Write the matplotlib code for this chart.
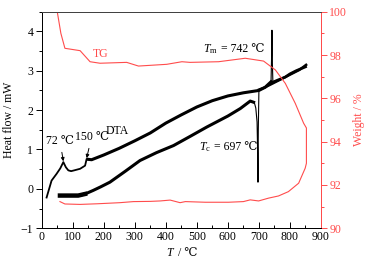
import matplotlib
matplotlib.use("Agg")
import matplotlib.pyplot as plt
from matplotlib.ticker import MultipleLocator
from matplotlib.offsetbox import TextArea, HPacker, AnnotationBbox

plt.rcParams['font.family'] = ['Liberation Serif', 'DejaVu Serif']
plt.rcParams['mathtext.fontset'] = 'custom'
plt.rcParams['mathtext.rm'] = 'Liberation Serif'
plt.rcParams['mathtext.it'] = 'Liberation Serif:italic'
FS = 8.5
plt.rcParams['font.size'] = FS

RED = '#ff4c4c'

# DTA heating curve (T, heat flow)
heat_T = [16, 32, 48, 60, 70, 78, 86, 95, 105, 124, 140, 145, 150, 161, 200, 250, 300, 350,
          400, 450, 500, 550, 600, 650, 700, 720, 739]
heat_H = [-0.22, 0.21, 0.38, 0.52, 0.68, 0.55, 0.47, 0.45, 0.47, 0.51, 0.59, 0.76, 0.75, 0.74,
          0.86, 1.03, 1.22, 1.42, 1.67, 1.88, 2.08, 2.24, 2.36, 2.44, 2.50, 2.58, 2.72]
# melting peak
peak_T = [739, 741, 742, 743, 745]
peak_H = [2.72, 3.4, 4.03, 3.3, 2.71]
heat2_T = [745, 760, 785, 800, 820, 835, 850]
heat2_H = [2.71, 2.76, 2.84, 2.92, 3.0, 3.05, 3.1]

# DTA cooling curve (from high T to low T)
cool_T = [852, 830, 800, 770, 745, 720, 700]
cool_H = [3.15, 3.02, 2.9, 2.78, 2.68, 2.58, 2.52]
exo_T = [700, 698, 697, 696, 694, 690, 686, 683]
exo_H = [2.52, 1.5, 0.17, 0.9, 1.7, 2.05, 2.17, 2.2]
cool2_T = [683, 672, 640, 600, 532, 480, 425, 370, 317, 270, 220, 190, 166, 140, 118, 90, 59]
cool2_H = [2.2, 2.23, 2.04, 1.85, 1.57, 1.34, 1.10, 0.92, 0.72, 0.45, 0.17, 0.05, -0.04, -0.13, -0.17, -0.17, -0.17]

# TG loop (T, weight %)
tg_T = [59, 75, 124, 180, 252, 296, 350, 382, 414, 446, 463, 527, 602, 650, 672, 699, 731, 763,
        795, 828, 849, 853, 853, 844, 817, 785, 753, 715, 656, 570, 478, 452, 403, 312, 274,
        188, 156, 124, 75, 62, 48]
tg_W = [91.23, 91.12, 91.10, 91.13, 91.18, 91.23, 91.24, 91.26, 91.30, 91.18, 91.23, 91.20, 91.20,
        91.23, 91.31, 91.26, 91.39, 91.49, 91.69, 92.08, 92.77, 93.0, 94.63, 94.85, 95.77, 96.69,
        97.31, 97.72, 97.85, 97.69, 97.66, 97.69, 97.57, 97.49, 97.66, 97.62, 97.69, 98.20, 98.31,
        99.0, 100.2]

fig = plt.figure(figsize=(3.75, 2.66), dpi=100)
ax = fig.add_axes([0.111, 0.142, 0.745, 0.814])
ax2 = ax.twinx()

ax.plot(heat_T[:13], heat_H[:13], color='black', lw=1.3, zorder=3)
ax.plot(heat_T[12:], heat_H[12:], color='black', lw=2.2, zorder=3)
ax.plot(peak_T, peak_H, color='black', lw=0.8, zorder=3)
ax.plot(heat2_T, heat2_H, color='black', lw=2.0, zorder=3)
ax.plot(cool_T, cool_H, color='black', lw=1.8, zorder=3)
ax.plot(exo_T, exo_H, color='black', lw=0.8, zorder=3)
ax.plot(cool2_T, cool2_H, color='black', lw=2.2, zorder=3)
ax.plot(cool2_T[-4:], cool2_H[-4:], color='black', lw=3.2, zorder=3)

ax2.plot(tg_T, tg_W, color=RED, lw=0.8)

ax.set_xlim(0, 900)
ax.set_ylim(-1, 4.5)
ax2.set_ylim(90, 100)

ax.xaxis.set_major_locator(MultipleLocator(100))
ax.xaxis.set_minor_locator(MultipleLocator(50))
ax.yaxis.set_major_locator(MultipleLocator(1))
ax.yaxis.set_minor_locator(MultipleLocator(0.5))
ax2.yaxis.set_major_locator(MultipleLocator(2))
ax2.yaxis.set_minor_locator(MultipleLocator(1))

ax.tick_params(axis='x', which='both', direction='in', labelsize=FS, width=0.7, pad=2)
ax.tick_params(axis='x', which='major', length=4)
ax.tick_params(axis='x', which='minor', length=2)
ax.tick_params(axis='y', which='both', direction='out', labelsize=FS, width=0.7, pad=2)
ax.tick_params(axis='y', which='major', length=4)
ax.tick_params(axis='y', which='minor', length=2)
ax2.tick_params(axis='y', which='both', direction='out', colors=RED, labelsize=FS, width=0.7, pad=2)
ax2.tick_params(axis='y', which='major', length=4)
ax2.tick_params(axis='y', which='minor', length=2)

for a in (ax, ax2):
    for s in a.spines.values():
        s.set_linewidth(0.7)
ax2.spines['right'].set_color(RED)
ax.spines['right'].set_color(RED)
ax2.spines['top'].set_color('#444444')

ax.set_ylabel('Heat flow / mW', fontsize=FS, labelpad=4)
ax2.set_ylabel('Weight / %', fontsize=FS, color=RED, labelpad=4)


def mixed(parts, xy, xycoords, align=(0.5, 0.5), color='black'):
    areas = [TextArea(s, textprops=dict(fontsize=FS, color=color)) for s in parts]
    pack = HPacker(children=areas, align='baseline', pad=0, sep=0)
    ab = AnnotationBbox(pack, xy, xycoords=xycoords, frameon=False,
                        box_alignment=align, pad=0, annotation_clip=False)
    ax.add_artist(ab)


mixed([r'$T$', ' / ℃'], (0.5, -0.115), 'axes fraction')
mixed([r'$T_{\rm m}$', ' = 742 ℃'], (620, 3.56), 'data')
mixed([r'$T_{\rm c}$', ' = 697 ℃'], (602, 1.06), 'data')

ax.annotate('72 ℃', xy=(70, 0.70), xytext=(59, 1.22), ha='center', va='center', fontsize=FS,
            arrowprops=dict(arrowstyle='-|>', color='black', lw=0.7, mutation_scale=5,
                            shrinkA=2, shrinkB=0))
ax.annotate('150 ℃', xy=(145, 0.78), xytext=(161, 1.32), ha='center', va='center', fontsize=FS,
            arrowprops=dict(arrowstyle='-|>', color='black', lw=0.7, mutation_scale=5,
                            shrinkA=2, shrinkB=0))
ax.text(245, 1.48, 'DTA', ha='center', va='center', fontsize=FS)
ax.text(190, 3.42, 'TG', ha='center', va='center', fontsize=FS, color=RED)

fig.savefig('out.png', dpi=100)
